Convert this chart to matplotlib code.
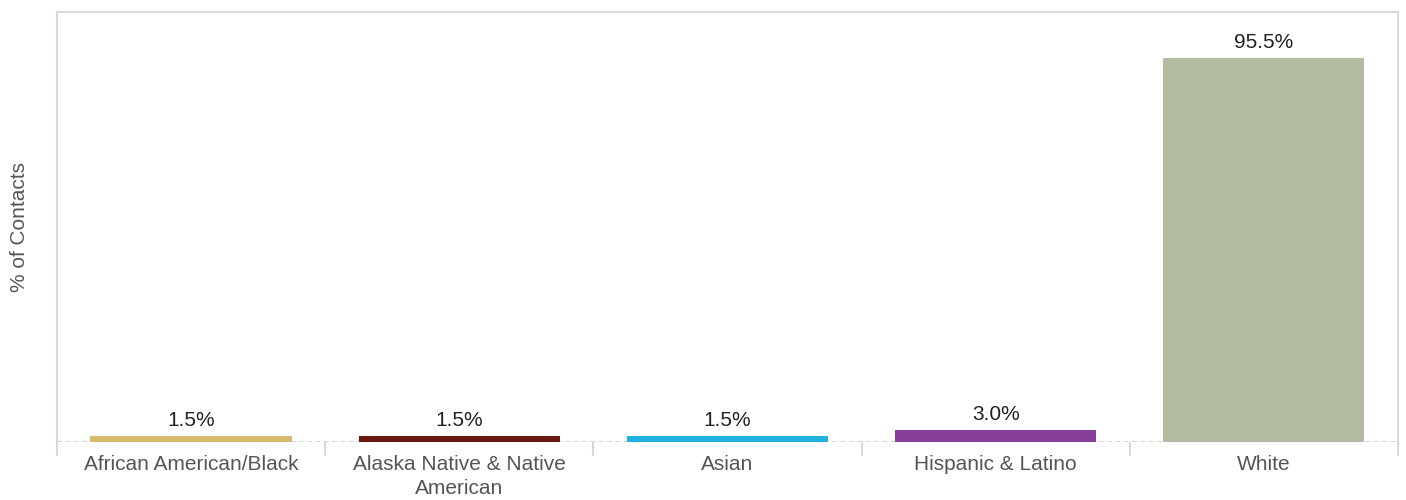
import matplotlib
matplotlib.use("Agg")
import matplotlib.pyplot as plt

# data
groups = ["African American/Black", "Alaska Native & Native\nAmerican", "Asian",
          "Hispanic & Latino", "White"]
pct = [1.5, 1.5, 1.5, 3.0, 95.5]
colors = ["#D5BA70", "#6B1A10", "#1FB4DF", "#873F9C", "#B3BCA1"]

plt.rcParams['font.family'] = ['Liberation Sans', 'DejaVu Sans']
grey = "#d9d9d9"

fig = plt.figure(figsize=(14.06, 5), dpi=100)
ax = fig.add_axes([0.0405, 0.116, 0.9538, 0.86])

x = range(len(groups))
bars = ax.bar(x, pct, width=0.75, color=colors, zorder=3)
for b, v in zip(bars, pct):
    ax.text(b.get_x() + b.get_width() / 2, v + 1.5, "%.1f%%" % v,
            ha="center", va="bottom", fontsize=15, color="#222222")

ax.set_xlim(-0.5, len(groups) - 0.5)
ax.set_ylim(0, 107)
ax.set_yticks([])
ax.set_xticks(list(x))
ax.set_xticklabels(groups, fontsize=15, color="#555555", linespacing=1.4)
ax.tick_params(axis="x", which="major", length=0, pad=9)
ax.set_xticks([i - 0.5 for i in range(len(groups) + 1)], minor=True)
ax.tick_params(axis="x", which="minor", length=10, width=1.5, color=grey)

for s in ["left", "top", "right"]:
    ax.spines[s].set_color(grey)
    ax.spines[s].set_linewidth(1.5)
ax.spines["bottom"].set_visible(False)
ax.axhline(0, color="#cccccc", lw=1.2, ls=(0, (3, 2)), zorder=2)

ax.set_ylabel("% of Contacts", fontsize=15, color="#555555", labelpad=20)

fig.savefig("out.png", dpi=100)
